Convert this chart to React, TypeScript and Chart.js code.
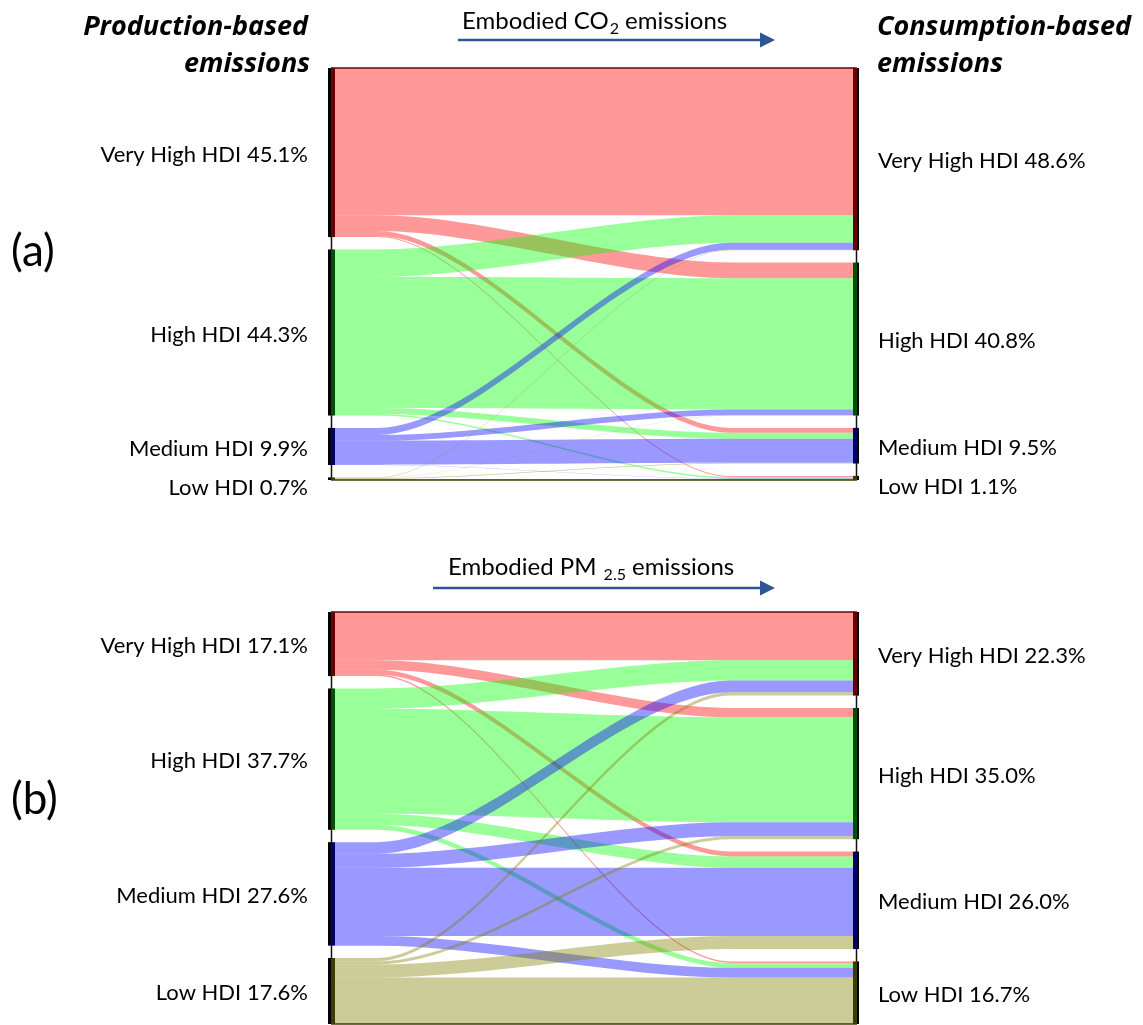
import React, { useEffect, useRef } from "react";
import { Chart, registerables } from "chart.js";

Chart.register(...registerables);

// ---------- data ----------
const GROUPS = ["Very High HDI", "High HDI", "Medium HDI", "Low HDI"];

const CO2_PRODUCTION_SHARE = [45.1, 44.3, 9.9, 0.7];
const CO2_CONSUMPTION_SHARE = [48.6, 40.8, 9.5, 1.1];
// rows: producing group, columns: consuming group (% of global total)
const CO2_FLOWS = [
  [39.3, 4.2, 1.3, 0.3],
  [7.3, 35.0, 1.6, 0.4],
  [1.9, 1.5, 6.4, 0.1],
  [0.1, 0.1, 0.2, 0.3],
];

const PM25_PRODUCTION_SHARE = [17.1, 37.7, 27.6, 17.6];
const PM25_CONSUMPTION_SHARE = [22.3, 35.0, 26.0, 16.7];
const PM25_FLOWS = [
  [12.9, 2.5, 1.3, 0.4],
  [5.4, 28.0, 3.0, 1.3],
  [3.1, 3.7, 18.2, 2.6],
  [0.9, 0.8, 3.5, 12.4],
];

// ---------- styling / layout ----------
const FLOW_COLORS = [
  "rgba(255,0,0,0.4)",
  "rgba(0,255,0,0.4)",
  "rgba(0,0,255,0.4)",
  "rgba(128,128,0,0.4)",
];
const NODE_DARK = ["#6a0000", "#005200", "#000066", "#3d3d00"];
const NODE_GAP = 3.3; // in % units
const PANEL_B_OFFSET = 145.1;
const Y_MAX = 255;
const CURVE_START = 0.088;
const CURVE_END = 0.76;
const CURVE_TENSION = 0.3;
const FONT = "Lato, 'Open Sans', sans-serif";
const HEAD_FONT = "'Open Sans', Lato, sans-serif";

const PANELS = [
  {
    tag: "(a)",
    offset: 0,
    production: CO2_PRODUCTION_SHARE,
    consumption: CO2_CONSUMPTION_SHARE,
    flows: CO2_FLOWS,
    arrowMain: "Embodied CO",
    arrowSub: "2",
    arrowTail: " emissions",
  },
  {
    tag: "(b)",
    offset: PANEL_B_OFFSET,
    production: PM25_PRODUCTION_SHARE,
    consumption: PM25_CONSUMPTION_SHARE,
    flows: PM25_FLOWS,
    arrowMain: "Embodied PM ",
    arrowSub: "2.5",
    arrowTail: " emissions",
  },
];

function nodeTops(shares: number[]) {
  const tops: number[] = [];
  let acc = 0;
  shares.forEach((s) => {
    tops.push(acc);
    acc += s + NODE_GAP;
  });
  return tops;
}

function fmt(v: number) {
  return v.toFixed(1) + "%";
}

function drawPanel(chart: any, p: any, panelIndex: number) {
  const ctx: CanvasRenderingContext2D = chart.ctx;
  const xs = chart.scales.x;
  const ys = chart.scales.y;
  const px = (v: number) => xs.getPixelForValue(v);
  const py = (v: number) => ys.getPixelForValue(p.offset + v);

  const srcTops = nodeTops(p.production);
  const tgtTops = nodeTops(p.consumption);
  const totalH =
    p.production.reduce((a: number, b: number) => a + b, 0) +
    NODE_GAP * (p.production.length - 1);

  const xL = px(0);
  const xR = px(1);
  const xS = px(CURVE_START);
  const xE = px(CURVE_END);
  const c1 = xS + (xE - xS) * CURVE_TENSION;
  const c2 = xE - (xE - xS) * CURVE_TENSION;
  const fL = xL + 4;
  const fR = xR - 4;

  const srcOff = p.production.map(() => 0);
  const tgtOff = p.consumption.map(() => 0);

  // flows
  for (let i = 0; i < p.flows.length; i++) {
    for (let j = 0; j < p.flows[i].length; j++) {
      const v = p.flows[i][j];
      const s0 = py(srcTops[i] + srcOff[i]);
      const s1 = py(srcTops[i] + srcOff[i] + v);
      const t0 = py(tgtTops[j] + tgtOff[j]);
      const t1 = py(tgtTops[j] + tgtOff[j] + v);
      srcOff[i] += v;
      tgtOff[j] += v;
      ctx.beginPath();
      ctx.moveTo(fL, s0);
      ctx.lineTo(xS, s0);
      ctx.bezierCurveTo(c1, s0, c2, t0, xE, t0);
      ctx.lineTo(fR, t0);
      ctx.lineTo(fR, t1);
      ctx.lineTo(xE, t1);
      ctx.bezierCurveTo(c2, t1, c1, s1, xS, s1);
      ctx.lineTo(fL, s1);
      ctx.closePath();
      ctx.fillStyle = FLOW_COLORS[i];
      ctx.fill();
    }
  }

  // frame lines
  ctx.lineWidth = 1.5;
  ctx.strokeStyle = "#111";
  ctx.beginPath();
  ctx.moveTo(xL + 0.5, py(0));
  ctx.lineTo(xL + 0.5, py(totalH));
  ctx.moveTo(xR - 0.5, py(0));
  ctx.lineTo(xR - 0.5, py(totalH));
  ctx.stroke();
  ctx.strokeStyle = NODE_DARK[0];
  ctx.beginPath();
  ctx.moveTo(xL, py(0));
  ctx.lineTo(xR, py(0));
  ctx.stroke();
  ctx.strokeStyle = NODE_DARK[3];
  ctx.beginPath();
  ctx.moveTo(xL, py(totalH));
  ctx.lineTo(xR, py(totalH));
  ctx.stroke();

  // node bars
  p.production.forEach((s: number, i: number) => {
    const a = py(srcTops[i]);
    const b = py(srcTops[i] + s);
    ctx.fillStyle = "#000";
    ctx.fillRect(xL - 3, a, 3, b - a);
    ctx.fillStyle = NODE_DARK[i];
    ctx.fillRect(xL, a, 4, b - a);
  });
  p.consumption.forEach((s: number, i: number) => {
    const a = py(tgtTops[i]);
    const b = py(tgtTops[i] + s);
    ctx.fillStyle = NODE_DARK[i];
    ctx.fillRect(xR - 4, a, 4, b - a);
    ctx.fillStyle = "#000";
    ctx.fillRect(xR, a, 2, b - a);
  });

  // node labels
  ctx.fillStyle = "#000";
  ctx.font = `22px ${FONT}`;
  ctx.textBaseline = "middle";
  const placeLabels = (shares: number[], tops: number[], x: number, align: CanvasTextAlign) => {
    ctx.textAlign = align;
    let prev = -1e9;
    shares.forEach((s, i) => {
      let yc = (py(tops[i]) + py(tops[i] + s)) / 2 + 2;
      if (yc < prev + 39) yc = prev + 39;
      prev = yc;
      ctx.fillText(`${GROUPS[i]} ${fmt(s)}`, x, yc);
    });
  };
  placeLabels(p.production, srcTops, xL - 23, "right");
  placeLabels(p.consumption, tgtTops, xR + 21, "left");

  // panel tag
  ctx.font = `44px ${FONT}`;
  ctx.textAlign = "left";
  ctx.fillText(p.tag, 11, panelIndex === 0 ? 252 : 800);

  // arrow + caption
  const arrowY = panelIndex === 0 ? 40 : 588;
  const arrowX0 = panelIndex === 0 ? 458 : 433;
  const arrowTip = 775;
  ctx.strokeStyle = "#2f5597";
  ctx.fillStyle = "#2f5597";
  ctx.lineWidth = 2.5;
  ctx.beginPath();
  ctx.moveTo(arrowX0, arrowY);
  ctx.lineTo(arrowTip - 12, arrowY);
  ctx.stroke();
  ctx.beginPath();
  ctx.moveTo(arrowTip, arrowY);
  ctx.lineTo(arrowTip - 15, arrowY - 7.5);
  ctx.lineTo(arrowTip - 15, arrowY + 7.5);
  ctx.closePath();
  ctx.fill();

  const capX = panelIndex === 0 ? 462 : 448;
  const capBase = panelIndex === 0 ? 29 : 575;
  ctx.fillStyle = "#000";
  ctx.textBaseline = "alphabetic";
  ctx.textAlign = "left";
  ctx.font = `24px ${FONT}`;
  ctx.fillText(p.arrowMain, capX, capBase);
  let cx = capX + ctx.measureText(p.arrowMain).width;
  ctx.font = `16px ${FONT}`;
  ctx.fillText(p.arrowSub, cx + 1, capBase + 5);
  cx += ctx.measureText(p.arrowSub).width + 1;
  ctx.font = `24px ${FONT}`;
  ctx.fillText(p.arrowTail, cx, capBase);
}

const sankeyPlugin = {
  id: "sankeyPanels",
  afterDraw(chart: any) {
    const ctx: CanvasRenderingContext2D = chart.ctx;
    ctx.save();
    PANELS.forEach((p, idx) => drawPanel(chart, p, idx));

    // column headers
    ctx.fillStyle = "#000";
    ctx.textBaseline = "alphabetic";
    ctx.font = `italic bold 27px ${HEAD_FONT}`;
    ctx.textAlign = "right";
    ctx.fillText("Production-based", 308, 35);
    ctx.fillText("emissions", 310, 72);
    ctx.textAlign = "left";
    ctx.fillText("Consumption-based", 877, 35);
    ctx.fillText("emissions", 877, 72);
    ctx.restore();
  },
};

export default function App() {
  const canvasRef = useRef<HTMLCanvasElement | null>(null);

  useEffect(() => {
    if (!canvasRef.current) return;
    const chart = new Chart(canvasRef.current, {
      type: "scatter",
      data: { datasets: [{ data: [], showLine: false }] },
      options: {
        animation: false,
        responsive: false,
        maintainAspectRatio: false,
        devicePixelRatio: 1,
        layout: { padding: { left: 331, right: 1143 - 857, top: 68, bottom: 1 } },
        plugins: { legend: { display: false }, tooltip: { enabled: false } },
        scales: {
          x: { type: "linear", min: 0, max: 1, display: false },
          y: { type: "linear", min: 0, max: Y_MAX, reverse: true, display: false },
        },
      },
      plugins: [sankeyPlugin],
    });
    return () => chart.destroy();
  }, []);

  return (
    <div style={{ position: "absolute", left: 0, top: 0, width: 1143, height: 1025, background: "#fff" }}>
      <canvas ref={canvasRef} width={1143} height={1025} />
    </div>
  );
}
